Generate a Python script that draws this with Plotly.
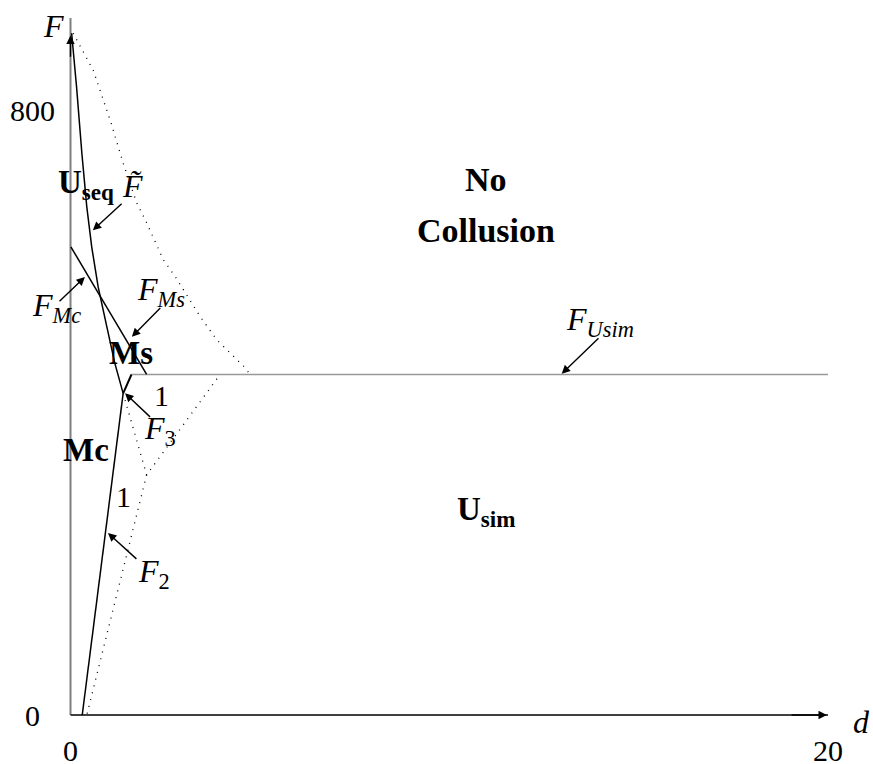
import plotly.graph_objects as go

# solid curve F~ (boundary of U_seq)
ftilde_d = [0.03, 0.16, 0.30, 0.43, 0.56, 0.73, 0.96, 1.17, 1.39]
ftilde_f = [903, 832, 744, 673, 620, 567, 514, 466, 426]

# dotted curve
bound_d = [0.07, 0.60, 1.06, 1.39, 1.75, 2.01, 2.45, 2.76, 3.42, 3.86, 4.61, 4.74]
bound_f = [903, 854, 786, 731, 678, 652, 603, 581, 528, 497, 460, 451]

# F_Mc line
fmc_d = [0.01, 2.01]
fmc_f = [620, 451]

# F_2 line
f2_d = [0.31, 1.39]
f2_f = [0, 426]

# kink F_3 -> F_Usim and horizontal F_Usim
kink_d = [1.39, 1.61]
kink_f = [426, 451]
usim_d = [1.61, 20]
usim_f = [451, 451]

# dotted triangle
tri_d = [1.39, 2.01, 3.95]
tri_f = [426, 318, 451]
tri2_d = [2.01, 0.43]
tri2_f = [318, 0]

x_ticks = [0, 20]
x_ticklabels = ["0", "20"]
y_ticks = [0, 800]
y_ticklabels = ["0", "800"]

FONT = "Liberation Serif"

fig = go.Figure()

def add_line(xs, ys, width=1.5, dash="solid", color="black"):
    fig.add_trace(go.Scatter(x=xs, y=ys, mode="lines", showlegend=False,
                             line=dict(color=color, width=width, dash=dash),
                             hoverinfo="skip"))

# axes
add_line([0, 0], [0, 923], width=2, color="#7f7f7f")
add_line([0, 20], [0, 0], width=1.4)

add_line(ftilde_d, ftilde_f)
add_line(bound_d, bound_f, width=1.3, dash="1px,6px")
add_line(fmc_d, fmc_f)
add_line(f2_d, f2_f)
add_line(kink_d, kink_f, width=2)
add_line(usim_d, usim_f, width=1.4, dash="1px,1px", color="#333333")
add_line(tri_d, tri_f, width=1.3, dash="1px,6px")
add_line(tri2_d, tri2_f, width=1.3, dash="1px,6px")

# axis arrows
fig.add_annotation(x=0, y=900, ax=0, ay=870, axref="x", ayref="y", text="",
                   showarrow=True, arrowhead=2, arrowsize=1.2, arrowwidth=1.4, arrowcolor="black")
fig.add_annotation(x=19.97, y=0, ax=19.0, ay=0, axref="x", ayref="y", text="",
                   showarrow=True, arrowhead=2, arrowsize=1.2, arrowwidth=1.4, arrowcolor="black")

def label(x, y, txt, size=30, xanchor="center"):
    fig.add_annotation(x=x, y=y, text=txt, showarrow=False, xanchor=xanchor,
                       font=dict(family=FONT, size=size, color="black"))

def pointer(x0, y0, x1, y1):
    fig.add_annotation(x=x1, y=y1, ax=x0, ay=y0, axref="x", ayref="y", text="",
                       showarrow=True, arrowhead=2, arrowsize=1.2, arrowwidth=1.4,
                       arrowcolor="black")

# tick labels
for v, t in zip(x_ticks, x_ticklabels):
    label(v, -47, t, 30)
for v, t in zip(y_ticks, y_ticklabels):
    label(-1.0, v, t, 30)
label(-0.46, 913, "<i>F</i>", 32)
label(21.17, -9, "<i>d</i>", 32, xanchor="right")

# region labels
label(0.42, 703, "<b>U</b><sub><b>seq</b></sub>", 33)
label(1.64, 700, "<i>F\u0303</i>", 32)
label(10.97, 709, "<b>No</b>", 34)
label(10.97, 642, "<b>Collusion</b>", 34)
label(-0.38, 540, "<i>F</i><sub><i>Mc</i></sub>", 32)
label(2.39, 561, "<i>F</i><sub><i>Ms</i></sub>", 32)
label(1.60, 480, "<b>Ms</b>", 33)
label(2.39, 423, "1", 30)
label(2.36, 377, "<i>F</i><sub>3</sub>", 32)
label(0.42, 351, "<b>Mc</b>", 33)
label(1.41, 290, "1", 30)
label(2.20, 187, "<i>F</i><sub>2</sub>", 32)
label(13.98, 521, "<i>F</i><sub><i>Usim</i></sub>", 32)
label(10.97, 270, "<b>U</b><sub><b>sim</b></sub>", 33)

# pointer arrows
pointer(1.39, 679, 0.59, 642)
pointer(-0.33, 546, 0.38, 580)
pointer(2.41, 541, 1.62, 501)
pointer(2.14, 393, 1.44, 426)
pointer(1.78, 205, 0.99, 241)
pointer(13.98, 501, 12.97, 452)

fig.update_layout(
    width=873, height=764,
    margin=dict(l=0, r=0, t=0, b=0),
    paper_bgcolor="white", plot_bgcolor="white",
    xaxis=dict(range=[-1.8614, 21.188], visible=False, fixedrange=True),
    yaxis=dict(range=[-64.9, 947.0], visible=False, fixedrange=True),
    showlegend=False,
)

# drop the default body margin so the figure fills the window
fig.write_html("out.html", config={"displayModeBar": False},
               post_script="document.body.style.margin='0';document.body.style.overflow='hidden';")
